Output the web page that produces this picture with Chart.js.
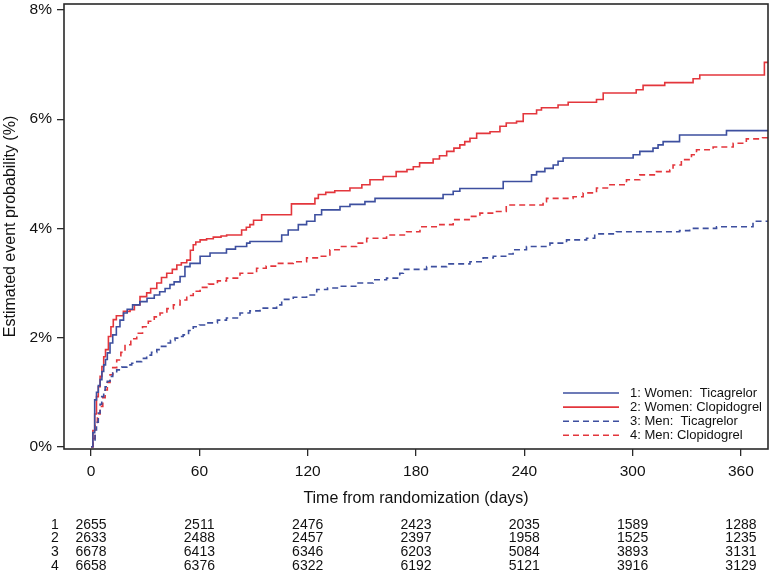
<!DOCTYPE html>
<html>
<head>
<meta charset="utf-8">
<title>Estimated event probability</title>
<script src="https://cdn.jsdelivr.net/npm/chart.js@4/dist/chart.umd.min.js"></script>
<style>
    html, body { margin: 0; padding: 0; background: #fff; }
    #chart-box { width: 772px; height: 574px; }
</style>
</head>
<body>
<div id="chart-box"><canvas id="km-chart" width="772" height="574"></canvas></div>
<script>
// ===========================================================
//                       CHART DATA
// ===========================================================

const xTicks = [0, 60, 120, 180, 240, 300, 360];
const yTicks = [0, 2, 4, 6, 8];

const seriesLabels = [
    "1: Women:  Ticagrelor",
    "2: Women: Clopidogrel",
    "3: Men:  Ticagrelor",
    "4: Men: Clopidogrel"
];

// 1: Women, Ticagrelor
const wTicDays = [0, 1, 2, 3, 4, 5, 6, 7, 8, 9, 10.5, 12, 14, 16, 18, 20, 23, 27, 31, 35, 38, 41, 43.7,
    46, 49.3, 52, 54.8, 60.4, 65.9, 75, 80, 86.2, 88, 105.6, 109.2, 114.8, 119.4, 124, 127.7, 137.9,
    143.4, 151.7, 157.3, 195, 200.6, 204.3, 228.3, 244, 246.8, 251.4, 256, 258.7, 261.5, 300.3, 304,
    311.3, 314.1, 316.9, 326, 352, 375];
const wTicPct = [0, 0.26, 0.86, 1.0, 1.12, 1.23, 1.38, 1.5, 1.6, 1.72, 1.9, 2.05, 2.2, 2.32, 2.45, 2.52,
    2.6, 2.66, 2.72, 2.78, 2.84, 2.9, 2.97, 3.02, 3.12, 3.30, 3.36, 3.49, 3.55, 3.62, 3.67, 3.73, 3.76,
    3.88, 3.97, 4.07, 4.13, 4.25, 4.34, 4.40, 4.44, 4.49, 4.55, 4.62, 4.68, 4.73, 4.86, 4.98, 5.04,
    5.10, 5.16, 5.23, 5.29, 5.35, 5.41, 5.47, 5.53, 5.59, 5.71, 5.79, 5.79];

// 2: Women, Clopidogrel
const wCloDays = [0, 1, 2, 3, 4, 5, 6, 7, 8, 9.6, 11, 12.3, 14, 17.9, 21.6, 24, 27.1, 30.8, 33, 36.4,
    39, 41.9, 45, 47.5, 50, 53, 55, 56.6, 58, 60.4, 64, 67.7, 72, 75.1, 83.4, 86, 88, 90, 94.5, 111,
    124, 125.9, 130, 135, 143.4, 150, 154.5, 161.8, 169, 175, 178.5, 182, 189.5, 193, 197, 201, 204.3,
    207, 209.9, 213.6, 221, 226.5, 230, 235.7, 239.4, 246.8, 249.5, 258.7, 264.3, 280, 283.7, 302,
    305.8, 317.8, 333.5, 337.2, 373, 375];
const wCloPct = [0, 0.3, 0.6, 0.92, 1.1, 1.29, 1.47, 1.65, 1.78, 2.02, 2.2, 2.33, 2.4, 2.48, 2.51, 2.6,
    2.75, 2.82, 2.9, 3.0, 3.1, 3.18, 3.25, 3.33, 3.37, 3.42, 3.6, 3.70, 3.75, 3.79, 3.81, 3.84, 3.86,
    3.88, 3.97, 4.02, 4.07, 4.15, 4.25, 4.45, 4.55, 4.62, 4.66, 4.69, 4.74, 4.8, 4.89, 4.95, 5.04,
    5.08, 5.13, 5.20, 5.27, 5.33, 5.41, 5.47, 5.53, 5.59, 5.65, 5.74, 5.77, 5.87, 5.93, 5.96, 6.10,
    6.17, 6.21, 6.26, 6.31, 6.36, 6.48, 6.54, 6.62, 6.67, 6.74, 6.81, 7.04, 7.04];

// 3: Men, Ticagrelor
const mTicDays = [0, 1, 2.2, 3, 4, 5, 5.9, 7, 7.8, 9, 10.5, 12, 14.2, 17, 19.8, 22.5, 25.3, 28, 30.8,
    33.5, 36.4, 39, 41.9, 44, 46.5, 49.3, 51, 54, 56.6, 60, 64, 70, 75, 82.5, 88, 93.6, 102.8, 105.6,
    112, 119.4, 125, 131, 137.9, 147.1, 156.3, 163.7, 171, 173, 185.9, 197, 209.9, 217.2, 222.8, 230.2,
    233.8, 241.2, 254.2, 263.4, 274.5, 279, 291, 326, 331.6, 346.5, 366.7, 375];
const mTicPct = [0, 0.1, 0.31, 0.45, 0.62, 0.78, 0.92, 1.02, 1.10, 1.2, 1.29, 1.35, 1.41, 1.46, 1.50,
    1.53, 1.56, 1.62, 1.68, 1.73, 1.78, 1.84, 1.90, 1.95, 1.99, 2.02, 2.05, 2.13, 2.20, 2.23, 2.27,
    2.32, 2.36, 2.45, 2.49, 2.54, 2.60, 2.70, 2.74, 2.78, 2.88, 2.91, 2.94, 3.00, 3.06, 3.09, 3.18,
    3.25, 3.30, 3.35, 3.39, 3.46, 3.49, 3.53, 3.61, 3.67, 3.73, 3.79, 3.82, 3.90, 3.94, 3.96, 4.00,
    4.03, 4.13, 4.13];

// 4: Men, Clopidogrel
const mCloDays = [0, 1, 2.2, 3.5, 5, 6.5, 7.8, 9, 10.5, 12, 14.2, 16.5, 18.8, 22, 25.3, 28.5, 31.7, 35,
    38.2, 42, 45.6, 49.3, 53, 56.6, 60.4, 65, 70, 75, 82.5, 91.7, 97, 102.8, 112, 119.4, 126.8, 132.3,
    137.9, 147.1, 152.7, 163.7, 174.8, 182.2, 193.2, 200.6, 209.9, 215.4, 224.6, 230, 250.4, 252.3,
    267, 272.6, 280, 287.4, 296.6, 304, 313.2, 320.6, 322.4, 327, 332.6, 335.4, 344.6, 355.7, 363,
    372, 375];
const mCloPct = [0, 0.15, 0.43, 0.6, 0.74, 0.9, 1.04, 1.18, 1.32, 1.45, 1.59, 1.73, 1.87, 1.98, 2.08,
    2.2, 2.30, 2.38, 2.45, 2.53, 2.60, 2.69, 2.77, 2.85, 2.92, 2.98, 3.04, 3.09, 3.18, 3.27, 3.31,
    3.36, 3.39, 3.46, 3.49, 3.61, 3.67, 3.73, 3.82, 3.88, 3.94, 4.03, 4.07, 4.16, 4.22, 4.28, 4.31,
    4.43, 4.49, 4.55, 4.58, 4.65, 4.74, 4.80, 4.89, 4.98, 5.04, 5.07, 5.16, 5.26, 5.35, 5.44, 5.49,
    5.56, 5.64, 5.66, 5.66];

// numbers at risk, one row per group, read at xTicks
const riskRowNames = ["1", "2", "3", "4"];
const riskWomenTic = [2655, 2511, 2476, 2423, 2035, 1589, 1288];
const riskWomenClo = [2633, 2488, 2457, 2397, 1958, 1525, 1235];
const riskMenTic = [6678, 6413, 6346, 6203, 5084, 3893, 3131];
const riskMenClo = [6658, 6376, 6322, 6192, 5121, 3916, 3129];


// ===========================================================
//                         STYLES
// ===========================================================

const FONT = '"Liberation Sans", Arial, sans-serif';
const BLUE = '#3d4f9f';
const RED = '#e3363c';
const FRAME = '#2a2a2a';

function toPoints(days, pct) {
    return days.map((d, i) => ({ x: d, y: pct[i] }));
}

function makeSet(label, days, pct, color, dashed) {
    return {
        label: label,
        data: toPoints(days, pct),
        borderColor: color,
        backgroundColor: color,
        borderWidth: 1.6,
        borderDash: dashed ? [6, 4] : [],
        pointRadius: 0,
        stepped: 'before',
        fill: false
    };
}


// ===========================================================
//                  FRAME / LEGEND / AT RISK
// ===========================================================

const framePlugin = {
    id: 'frame',
    afterDraw(chart) {
        const { ctx, chartArea: a } = chart;
        ctx.save();
        ctx.strokeStyle = FRAME;
        ctx.lineWidth = 1.6;
        ctx.strokeRect(a.left, a.top, a.right - a.left, a.bottom - a.top);
        ctx.restore();
    }
};

const legendPlugin = {
    id: 'innerLegend',
    afterDraw(chart) {
        const { ctx, chartArea: a } = chart;
        ctx.save();
        ctx.font = '13px ' + FONT;
        ctx.textBaseline = 'middle';
        ctx.textAlign = 'left';
        chart.data.datasets.forEach((ds, i) => {
            const y = a.bottom - 56 + i * 14.1;
            ctx.beginPath();
            ctx.strokeStyle = ds.borderColor;
            ctx.lineWidth = 1.6;
            ctx.setLineDash(ds.borderDash);
            ctx.moveTo(a.right - 205, y);
            ctx.lineTo(a.right - 149, y);
            ctx.stroke();
            ctx.setLineDash([]);
            ctx.fillStyle = '#111';
            ctx.fillText(ds.label, a.right - 138, y);
        });
        ctx.restore();
    }
};

const riskPlugin = {
    id: 'atRisk',
    afterDraw(chart) {
        const ctx = chart.ctx;
        const xs = chart.scales.x;
        const rows = [riskWomenTic, riskWomenClo, riskMenTic, riskMenClo];
        ctx.save();
        ctx.font = '14px ' + FONT;
        ctx.fillStyle = '#111';
        ctx.textAlign = 'center';
        ctx.textBaseline = 'middle';
        rows.forEach((row, r) => {
            const y = 525 + r * 13.6;
            ctx.fillText(riskRowNames[r], 55, y);
            row.forEach((n, j) => {
                ctx.fillText(String(n), xs.getPixelForValue(xTicks[j]), y);
            });
        });
        ctx.restore();
    }
};


// ===========================================================
//                         CHART
// ===========================================================

const ctx = document.getElementById('km-chart').getContext('2d');

new Chart(ctx, {
    type: 'line',
    data: {
        datasets: [
            makeSet(seriesLabels[0], wTicDays, wTicPct, BLUE, false),
            makeSet(seriesLabels[1], wCloDays, wCloPct, RED, false),
            makeSet(seriesLabels[2], mTicDays, mTicPct, BLUE, true),
            makeSet(seriesLabels[3], mCloDays, mCloPct, RED, true)
        ]
    },
    options: {
        responsive: false,
        animation: false,
        devicePixelRatio: 1,
        layout: { padding: { left: 0, top: 4, right: 4, bottom: 63 } },
        plugins: {
            legend: { display: false },
            tooltip: { enabled: false }
        },
        scales: {
            x: {
                type: 'linear',
                min: -15,
                max: 375,
                afterFit(scale) {
                    scale.height = 62;
                    scale.paddingLeft = 0;
                    scale.paddingRight = 0;
                },
                afterBuildTicks(scale) { scale.ticks = xTicks.map(v => ({ value: v })); },
                grid: { drawOnChartArea: false, tickLength: 7, color: FRAME, lineWidth: 1.3 },
                border: { display: false },
                ticks: {
                    padding: 6,
                    maxRotation: 0,
                    color: '#111',
                    font: { family: FONT, size: 15.5 }
                },
                title: {
                    display: true,
                    text: 'Time from randomization (days)',
                    color: '#111',
                    font: { family: FONT, size: 16 },
                    padding: { top: 0, bottom: 2.4 }
                }
            },
            y: {
                type: 'linear',
                min: -0.04,
                max: 8.11,
                afterFit(scale) {
                    scale.width = 64;
                    scale.paddingTop = 0;
                    scale.paddingBottom = 0;
                },
                afterBuildTicks(scale) { scale.ticks = yTicks.map(v => ({ value: v })); },
                grid: { drawOnChartArea: false, tickLength: 7, color: FRAME, lineWidth: 1.3 },
                border: { display: false },
                ticks: {
                    padding: 5,
                    color: '#111',
                    font: { family: FONT, size: 15.5 },
                    callback: v => v + '%'
                },
                title: {
                    display: true,
                    text: 'Estimated event probability (%)',
                    color: '#111',
                    font: { family: FONT, size: 16 },
                    padding: { top: 1.4, bottom: 0 }
                }
            }
        }
    },
    plugins: [framePlugin, legendPlugin, riskPlugin]
});
</script>
</body>
</html>
